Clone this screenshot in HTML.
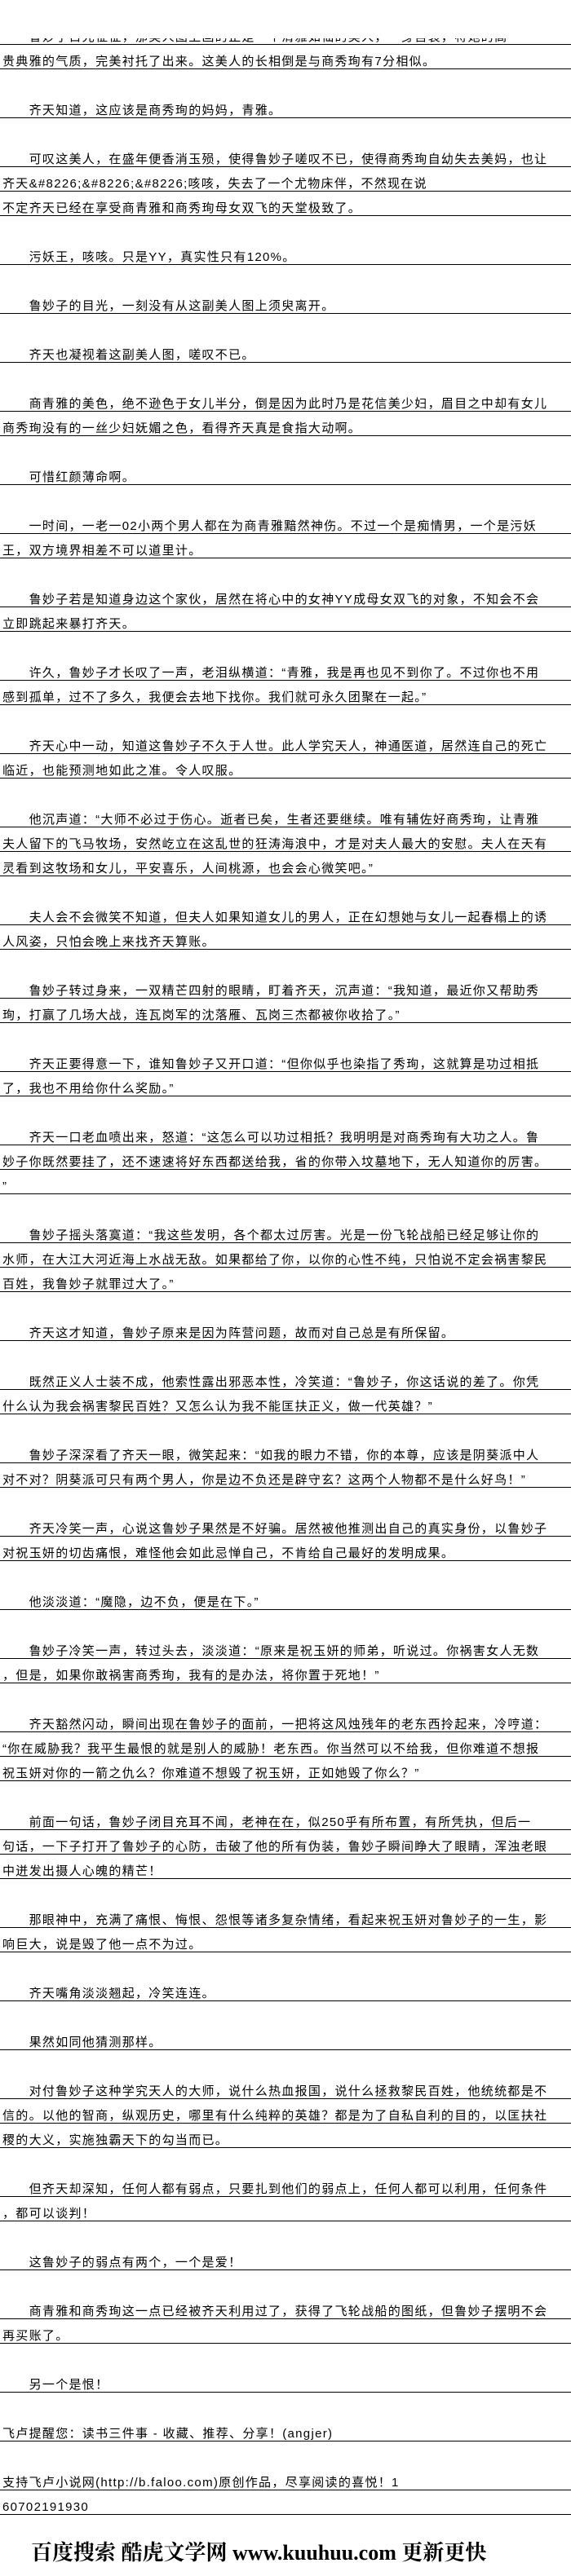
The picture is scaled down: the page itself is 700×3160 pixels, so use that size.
<!DOCTYPE html>
<html><head><meta charset="utf-8">
<style>
html,body{margin:0;padding:0;background:#fff;}
body{width:700px;height:3160px;position:relative;overflow:hidden;font-family:"Liberation Sans","Noto Sans CJK SC","WenQuanYi Zen Hei",sans-serif;color:#000;}
.r{position:absolute;left:0;width:697px;height:29px;border-bottom:1px solid #000;line-height:16px;display:flex;align-items:flex-end;padding-left:3px;font-size:15px;letter-spacing:1.3px;white-space:nowrap;overflow:hidden;}
.cover{position:absolute;left:0;top:0;width:700px;height:47px;background:#fff;}
.logo{position:absolute;left:38px;top:3114px;width:620px;font-family:"Liberation Serif","Noto Serif CJK SC",serif;font-size:26px;font-weight:bold;white-space:nowrap;line-height:36px;}
</style></head><body>
<div class="r" style="top:25px">　　鲁妙子目光怔怔，那美人图上画的正是一个清雅如仙的美人，一身宫装，将她的高</div>
<div class="cover"></div>
<div class="r" style="top:55px">贵典雅的气质，完美衬托了出来。这美人的长相倒是与商秀珣有7分相似。</div>
<div class="r" style="top:115px">　　齐天知道，这应该是商秀珣的妈妈，青雅。</div>
<div class="r" style="top:175px">　　可叹这美人，在盛年便香消玉殒，使得鲁妙子嗟叹不已，使得商秀珣自幼失去美妈，也让</div>
<div class="r" style="top:205px">齐天&amp;#8226;&amp;#8226;&amp;#8226;咳咳，失去了一个尤物床伴，不然现在说</div>
<div class="r" style="top:235px">不定齐天已经在享受商青雅和商秀珣母女双飞的天堂极致了。</div>
<div class="r" style="top:295px">　　污妖王，咳咳。只是YY，真实性只有120%。</div>
<div class="r" style="top:355px">　　鲁妙子的目光，一刻没有从这副美人图上须臾离开。</div>
<div class="r" style="top:415px">　　齐天也凝视着这副美人图，嗟叹不已。</div>
<div class="r" style="top:475px">　　商青雅的美色，绝不逊色于女儿半分，倒是因为此时乃是花信美少妇，眉目之中却有女儿</div>
<div class="r" style="top:505px">商秀珣没有的一丝少妇妩媚之色，看得齐天真是食指大动啊。</div>
<div class="r" style="top:565px">　　可惜红颜薄命啊。</div>
<div class="r" style="top:625px">　　一时间，一老一02小两个男人都在为商青雅黯然神伤。不过一个是痴情男，一个是污妖</div>
<div class="r" style="top:655px">王，双方境界相差不可以道里计。</div>
<div class="r" style="top:715px">　　鲁妙子若是知道身边这个家伙，居然在将心中的女神YY成母女双飞的对象，不知会不会</div>
<div class="r" style="top:745px">立即跳起来暴打齐天。</div>
<div class="r" style="top:805px">　　许久，鲁妙子才长叹了一声，老泪纵横道：“青雅，我是再也见不到你了。不过你也不用</div>
<div class="r" style="top:835px">感到孤单，过不了多久，我便会去地下找你。我们就可永久团聚在一起。”</div>
<div class="r" style="top:895px">　　齐天心中一动，知道这鲁妙子不久于人世。此人学究天人，神通医道，居然连自己的死亡</div>
<div class="r" style="top:925px">临近，也能预测地如此之准。令人叹服。</div>
<div class="r" style="top:985px">　　他沉声道：“大师不必过于伤心。逝者已矣，生者还要继续。唯有辅佐好商秀珣，让青雅</div>
<div class="r" style="top:1015px">夫人留下的飞马牧场，安然屹立在这乱世的狂涛海浪中，才是对夫人最大的安慰。夫人在天有</div>
<div class="r" style="top:1045px">灵看到这牧场和女儿，平安喜乐，人间桃源，也会会心微笑吧。”</div>
<div class="r" style="top:1105px">　　夫人会不会微笑不知道，但夫人如果知道女儿的男人，正在幻想她与女儿一起春榻上的诱</div>
<div class="r" style="top:1135px">人风姿，只怕会晚上来找齐天算账。</div>
<div class="r" style="top:1195px">　　鲁妙子转过身来，一双精芒四射的眼睛，盯着齐天，沉声道：“我知道，最近你又帮助秀</div>
<div class="r" style="top:1225px">珣，打赢了几场大战，连瓦岗军的沈落雁、瓦岗三杰都被你收拾了。”</div>
<div class="r" style="top:1285px">　　齐天正要得意一下，谁知鲁妙子又开口道：“但你似乎也染指了秀珣，这就算是功过相抵</div>
<div class="r" style="top:1315px">了，我也不用给你什么奖励。”</div>
<div class="r" style="top:1375px">　　齐天一口老血喷出来，怒道：“这怎么可以功过相抵？我明明是对商秀珣有大功之人。鲁</div>
<div class="r" style="top:1405px">妙子你既然要挂了，还不速速将好东西都送给我，省的你带入坟墓地下，无人知道你的厉害。</div>
<div class="r" style="top:1435px">”</div>
<div class="r" style="top:1495px">　　鲁妙子摇头落寞道：“我这些发明，各个都太过厉害。光是一份飞轮战船已经足够让你的</div>
<div class="r" style="top:1525px">水师，在大江大河近海上水战无敌。如果都给了你，以你的心性不纯，只怕说不定会祸害黎民</div>
<div class="r" style="top:1555px">百姓，我鲁妙子就罪过大了。”</div>
<div class="r" style="top:1615px">　　齐天这才知道，鲁妙子原来是因为阵营问题，故而对自己总是有所保留。</div>
<div class="r" style="top:1675px">　　既然正义人士装不成，他索性露出邪恶本性，冷笑道：“鲁妙子，你这话说的差了。你凭</div>
<div class="r" style="top:1705px">什么认为我会祸害黎民百姓？又怎么认为我不能匡扶正义，做一代英雄？”</div>
<div class="r" style="top:1765px">　　鲁妙子深深看了齐天一眼，微笑起来：“如我的眼力不错，你的本尊，应该是阴葵派中人</div>
<div class="r" style="top:1795px">对不对？阴葵派可只有两个男人，你是边不负还是辟守玄？这两个人物都不是什么好鸟！”</div>
<div class="r" style="top:1855px">　　齐天冷笑一声，心说这鲁妙子果然是不好骗。居然被他推测出自己的真实身份，以鲁妙子</div>
<div class="r" style="top:1885px">对祝玉妍的切齿痛恨，难怪他会如此忌惮自己，不肯给自己最好的发明成果。</div>
<div class="r" style="top:1945px">　　他淡淡道：“魔隐，边不负，便是在下。”</div>
<div class="r" style="top:2005px">　　鲁妙子冷笑一声，转过头去，淡淡道：“原来是祝玉妍的师弟，听说过。你祸害女人无数</div>
<div class="r" style="top:2035px">，但是，如果你敢祸害商秀珣，我有的是办法，将你置于死地！”</div>
<div class="r" style="top:2095px">　　齐天豁然闪动，瞬间出现在鲁妙子的面前，一把将这风烛残年的老东西拎起来，冷哼道：</div>
<div class="r" style="top:2125px">“你在威胁我？我平生最恨的就是别人的威胁！老东西。你当然可以不给我，但你难道不想报</div>
<div class="r" style="top:2155px">祝玉妍对你的一箭之仇么？你难道不想毁了祝玉妍，正如她毁了你么？”</div>
<div class="r" style="top:2215px">　　前面一句话，鲁妙子闭目充耳不闻，老神在在，似250乎有所布置，有所凭执，但后一</div>
<div class="r" style="top:2245px">句话，一下子打开了鲁妙子的心防，击破了他的所有伪装，鲁妙子瞬间睁大了眼睛，浑浊老眼</div>
<div class="r" style="top:2275px">中迸发出摄人心魄的精芒！</div>
<div class="r" style="top:2335px">　　那眼神中，充满了痛恨、悔恨、怨恨等诸多复杂情绪，看起来祝玉妍对鲁妙子的一生，影</div>
<div class="r" style="top:2365px">响巨大，说是毁了他一点不为过。</div>
<div class="r" style="top:2425px">　　齐天嘴角淡淡翘起，冷笑连连。</div>
<div class="r" style="top:2485px">　　果然如同他猜测那样。</div>
<div class="r" style="top:2545px">　　对付鲁妙子这种学究天人的大师，说什么热血报国，说什么拯救黎民百姓，他统统都是不</div>
<div class="r" style="top:2575px">信的。以他的智商，纵观历史，哪里有什么纯粹的英雄？都是为了自私自利的目的，以匡扶社</div>
<div class="r" style="top:2605px">稷的大义，实施独霸天下的勾当而已。</div>
<div class="r" style="top:2665px">　　但齐天却深知，任何人都有弱点，只要扎到他们的弱点上，任何人都可以利用，任何条件</div>
<div class="r" style="top:2695px">，都可以谈判！</div>
<div class="r" style="top:2755px">　　这鲁妙子的弱点有两个，一个是爱！</div>
<div class="r" style="top:2815px">　　商青雅和商秀珣这一点已经被齐天利用过了，获得了飞轮战船的图纸，但鲁妙子摆明不会</div>
<div class="r" style="top:2845px">再买账了。</div>
<div class="r" style="top:2905px">　　另一个是恨！</div>
<div class="r" style="top:2965px">飞卢提醒您：读书三件事 - 收藏、推荐、分享！(angjer)</div>
<div class="r" style="top:3025px">支持飞卢小说网(http://b.faloo.com)原创作品，尽享阅读的喜悦！1</div>
<div class="r" style="top:3055px">60702191930</div>
<div class="logo">百度搜索 酷虎文学网 www.kuuhuu.com 更新更快</div>
</body></html>
